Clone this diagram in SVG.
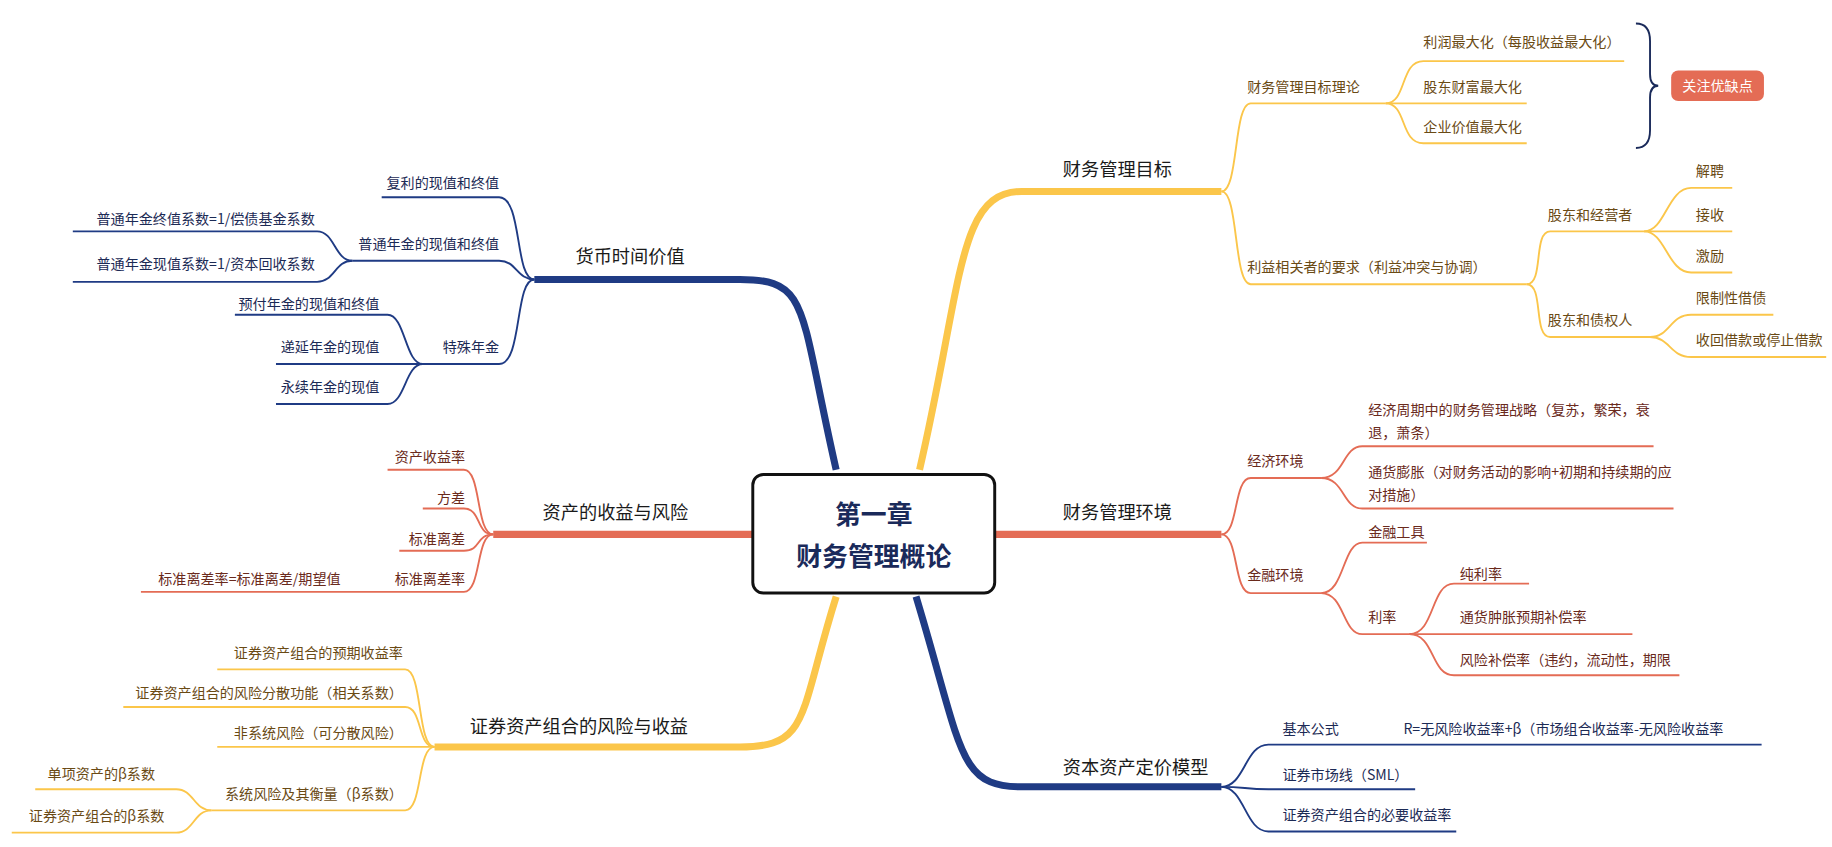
<svg xmlns="http://www.w3.org/2000/svg" width="1832" height="847" viewBox="0 0 1832 847">
<style>
text{font-family:"Noto Sans CJK SC","Noto Sans",sans-serif;font-size:12px}
.y{stroke:#fbc64a;fill:none;stroke-width:1.6}
.r{stroke:#e46c55;fill:none;stroke-width:1.6}
.b{stroke:#1f3b84;fill:none;stroke-width:1.6}
.ty{fill:#6a4a14}.tr{fill:#6a2a1c}.tb{fill:#1c2a55}
.main{font-size:15.5px;fill:#1a1a1a}
</style>
<rect width="1832" height="847" fill="#fff"/>
<g transform="scale(1.1744)">
<g id="connectors">
<path d="M783 400 C820 240 815 163 870 163 H1040" stroke="#fbc64a" stroke-width="6" fill="none"/>
<path d="M847 455 H1040" stroke="#e46c55" stroke-width="6" fill="none"/>
<path d="M780 508 C820 640 815 670 870 670 H1040" stroke="#1f3b84" stroke-width="6" fill="none"/>
<path d="M712 400 C680 260 690 238 630 238 H455" stroke="#1f3b84" stroke-width="6" fill="none"/>
<path d="M641 455 H420" stroke="#e46c55" stroke-width="6" fill="none"/>
<path d="M712 508 C680 610 690 636 630 636 H370" stroke="#fbc64a" stroke-width="6" fill="none"/>
<path class="y" d="M1040 163 C1055 163 1050 88 1065 88 H1180"/>
<path class="y" d="M1040 163 C1055 163 1050 242 1065 242 H1300"/>
<path class="y" d="M1180 88 C1198 88 1192 52 1212 52 H1383"/>
<path class="y" d="M1180 88 H1300"/>
<path class="y" d="M1180 88 C1198 88 1192 122 1212 122 H1300"/>
<path class="y" d="M1300 242 C1315 242 1305 197 1320 197 H1400"/>
<path class="y" d="M1300 242 C1315 242 1305 287 1320 287 H1405"/>
<path class="y" d="M1400 197 C1418 197 1420 160 1440 160 H1475"/>
<path class="y" d="M1400 197 H1475"/>
<path class="y" d="M1400 197 C1418 197 1420 232 1440 232 H1475"/>
<path class="y" d="M1405 287 C1422 287 1422 268 1440 268 H1510"/>
<path class="y" d="M1405 287 C1422 287 1422 304 1440 304 H1555"/>
<path class="r" d="M1040 455 C1055 455 1050 407 1065 407 H1125"/>
<path class="r" d="M1040 455 C1055 455 1050 505 1065 505 H1125"/>
<path class="r" d="M1125 407 C1145 407 1143 380 1160 380 H1408"/>
<path class="r" d="M1125 407 C1145 407 1143 433 1160 433 H1425"/>
<path class="r" d="M1125 505 C1145 505 1143 462 1160 462 H1215"/>
<path class="r" d="M1125 505 C1145 505 1143 540 1160 540 H1200"/>
<path class="r" d="M1200 540 C1222 540 1218 497 1238 497 H1302"/>
<path class="r" d="M1200 540 H1390"/>
<path class="r" d="M1200 540 C1222 540 1218 575 1238 575 H1430"/>
<path class="b" d="M1040 670 C1060 670 1060 634 1080 634 H1500"/>
<path class="b" d="M1040 670 C1060 670 1060 672 1080 672 H1205"/>
<path class="b" d="M1040 670 C1060 670 1060 708 1080 708 H1240"/>
<path class="b" d="M455 238 C438 238 445 168 425 168 H325"/>
<path class="b" d="M455 238 C440 238 440 222 425 222 H300"/>
<path class="b" d="M455 238 C438 238 445 310 425 310 H360"/>
<path class="b" d="M300 222 C285 222 285 197 270 197 H62"/>
<path class="b" d="M300 222 C285 222 285 240 270 240 H62"/>
<path class="b" d="M360 310 C345 310 345 268 330 268 H200"/>
<path class="b" d="M360 310 H235"/>
<path class="b" d="M360 310 C345 310 345 344 330 344 H235"/>
<path class="r" d="M420 455 C405 455 410 400 395 400 H330"/>
<path class="r" d="M420 455 C405 455 410 433 395 433 H360"/>
<path class="r" d="M420 455 C405 455 410 469 395 469 H340"/>
<path class="r" d="M420 455 C405 455 410 504 395 504 H120"/>
<path class="y" d="M370 636 C355 636 360 570 345 570 H185"/>
<path class="y" d="M370 636 C355 636 360 602 345 602 H105"/>
<path class="y" d="M370 636 H185"/>
<path class="y" d="M370 636 C355 636 360 690 345 690 H180"/>
<path class="y" d="M180 690 C165 690 165 672 150 672 H30"/>
<path class="y" d="M180 690 C165 690 165 709 150 709 H10"/>
<path d="M1393 20 Q1405 20 1405 35 V63 Q1405 73 1412 73 Q1405 73 1405 83 V111 Q1405 126 1393 126" stroke="#1a2a5a" stroke-width="1.6" fill="none"/>
</g>
<g id="center"><rect x="641" y="404" width="206" height="101" rx="9" fill="#fff" stroke="#111" stroke-width="2.5"/>
<text x="744" y="446" text-anchor="middle" style="font-size:22px;font-weight:bold;fill:#1a2a5a">第一章</text>
<text x="744" y="482" text-anchor="middle" style="font-size:22px;font-weight:bold;fill:#1a2a5a">财务管理概论</text></g>
<g id="main">
<text class="main" x="905" y="150">财务管理目标</text>
<text class="main" x="905" y="442">财务管理环境</text>
<text class="main" x="905" y="659">资本资产定价模型</text>
<text class="main" x="490" y="224">货币时间价值</text>
<text class="main" x="462" y="442">资产的收益与风险</text>
<text class="main" x="400" y="624">证券资产组合的风险与收益</text>
</g>
<g id="nodes-goal" class="ty">
<text x="1062" y="78">财务管理目标理论</text>
<text x="1062" y="232">利益相关者的要求（利益冲突与协调）</text>
<text x="1212" y="40">利润最大化（每股收益最大化）</text>
<text x="1212" y="78">股东财富最大化</text>
<text x="1212" y="112">企业价值最大化</text>
<text x="1318" y="187">股东和经营者</text>
<text x="1318" y="277">股东和债权人</text>
<text x="1444" y="150">解聘</text>
<text x="1444" y="187">接收</text>
<text x="1444" y="222">激励</text>
<text x="1444" y="258">限制性借债</text>
<text x="1444" y="294">收回借款或停止借款</text>
</g>
<g id="callout"><rect x="1423" y="60" width="79" height="26" rx="6" fill="#e46c55"/>
<text x="1462.5" y="77.5" text-anchor="middle" style="fill:#fff">关注优缺点</text></g>
<g id="nodes-env" class="tr">
<text x="1062" y="397">经济环境</text>
<text x="1062" y="494">金融环境</text>
<text x="1165" y="353">经济周期中的财务管理战略（复苏，繁荣，衰</text>
<text x="1165" y="373">退，萧条）</text>
<text x="1165" y="406">通货膨胀（对财务活动的影响+初期和持续期的应</text>
<text x="1165" y="426">对措施）</text>
<text x="1165" y="457">金融工具</text>
<text x="1165" y="530">利率</text>
<text x="1243" y="493">纯利率</text>
<text x="1243" y="530">通货肿胀预期补偿率</text>
<text x="1243" y="566">风险补偿率（违约，流动性，期限</text>
</g>
<g id="nodes-capm" class="tb">
<text x="1092" y="625">基本公式</text>
<text x="1195" y="625">R=无风险收益率+β（市场组合收益率-无风险收益率</text>
<text x="1092" y="664">证券市场线（SML）</text>
<text x="1092" y="698">证券资产组合的必要收益率</text>
</g>
<g id="nodes-tvm" class="tb" text-anchor="end">
<text x="425" y="160">复利的现值和终值</text>
<text x="425" y="212">普通年金的现值和终值</text>
<text x="425" y="300">特殊年金</text>
<text x="268" y="191">普通年金终值系数=1/偿债基金系数</text>
<text x="268" y="229">普通年金现值系数=1/资本回收系数</text>
<text x="323" y="263">预付年金的现值和终值</text>
<text x="323" y="300">递延年金的现值</text>
<text x="323" y="334">永续年金的现值</text>
</g>
<g id="nodes-risk" class="tr" text-anchor="end">
<text x="396" y="393">资产收益率</text>
<text x="396" y="428">方差</text>
<text x="396" y="463">标准离差</text>
<text x="396" y="497">标准离差率</text>
<text x="290" y="497">标准离差率=标准离差/期望值</text>
</g>
<g id="nodes-port" class="ty" text-anchor="end">
<text x="343" y="560">证券资产组合的预期收益率</text>
<text x="343" y="594">证券资产组合的风险分散功能（相关系数）</text>
<text x="343" y="628">非系统风险（可分散风险）</text>
<text x="343" y="680">系统风险及其衡量（β系数）</text>
<text x="132" y="663">单项资产的β系数</text>
<text x="140" y="699">证券资产组合的β系数</text>
</g>
</g>
</svg>
